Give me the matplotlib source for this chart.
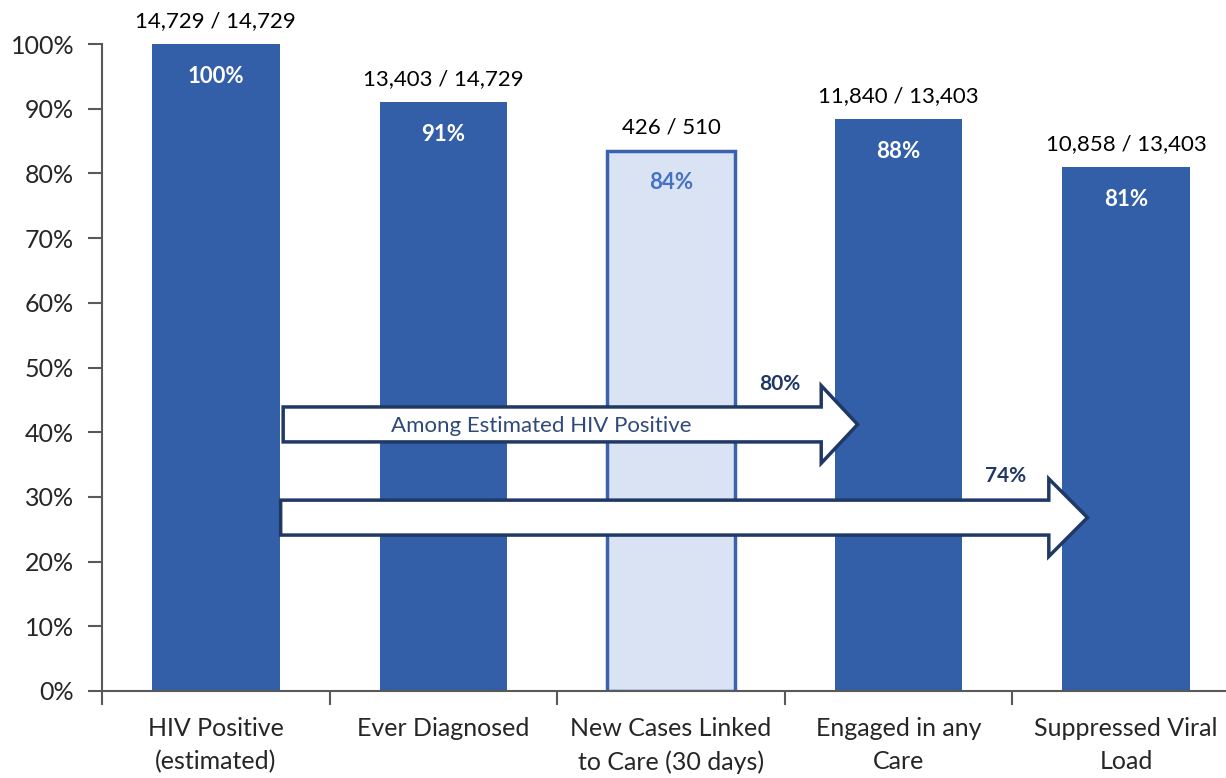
import numpy as np
import matplotlib.pyplot as plt
from matplotlib.patches import Polygon

plt.rcParams['font.family'] = ['Lato', 'DejaVu Sans']

# Datos de la cascada de atención
categorias = ['HIV Positive\n(estimated)', 'Ever Diagnosed', 'New Cases Linked\nto Care (30 days)',
              'Engaged in any\nCare', 'Suppressed Viral\nLoad']
numerador = [14729, 13403, 426, 11840, 10858]
denominador = [14729, 14729, 510, 13403, 13403]
porcentaje = [100, 91, 84, 88, 81]
flechas_pct = [80, 74]
flecha_texto = 'Among Estimated HIV Positive'

azul = '#335FA8'
azul_claro = '#DAE3F3'
marino = '#1F3864'
gris = '#595959'

fig = plt.figure(figsize=(12.26, 7.78), dpi=100)
W, H = 1226, 778
# el eje se sale un poco por la derecha, como en el original
ax = fig.add_axes([102 / W, (H - 691) / H, (1240 - 102) / W, (691 - 44) / H])

x = np.arange(len(categorias))
altura = [100 * n / d for n, d in zip(numerador, denominador)]
colores = [azul, azul, azul_claro, azul, azul]
bordes = [azul, azul, '#3A62AD', azul, azul]
lws = [0, 0, 2.5, 0, 0]
barras = ax.bar(x, altura, width=0.56, color=colores, edgecolor=bordes, linewidth=lws, zorder=2)

for i, b in enumerate(barras):
    ax.text(x[i], altura[i] + 2.0, f'{numerador[i]:,} / {denominador[i]:,}',
            ha='center', va='bottom', fontsize=16, color='black')
    c = '#4472C4' if i == 2 else 'white'
    ax.text(x[i], altura[i] - 5, f'{porcentaje[i]}%', ha='center', va='center',
            fontsize=16, fontweight='bold', color=c)

# flechas
def flecha(x0, x1, xt, yc, hb, hh):
    pts = [(x0, yc - hb), (x1, yc - hb), (x1, yc - hh), (xt, yc), (x1, yc + hh),
           (x1, yc + hb), (x0, yc + hb)]
    ax.add_patch(Polygon(pts, closed=True, facecolor='white', edgecolor=marino,
                         linewidth=2.5, joinstyle='miter', zorder=3))

flecha(0.296, 2.66, 2.82, 41.2, 2.7, 6.0)
flecha(0.285, 3.66, 3.83, 26.8, 2.7, 6.0)
ax.text(1.43, 40.9, flecha_texto, ha='center', va='center', fontsize=16, color='#2F4A7A', zorder=4)
ax.text(2.48, 47.4, f'{flechas_pct[0]}%', ha='center', va='center', fontsize=15,
        fontweight='bold', color=marino, zorder=4)
ax.text(3.47, 33.2, f'{flechas_pct[1]}%', ha='center', va='center', fontsize=15,
        fontweight='bold', color=marino, zorder=4)

ax.set_xlim(-0.5, 4.5)
ax.set_ylim(0, 100)
ax.set_yticks(np.arange(0, 101, 10))
ax.set_yticklabels([f'{v}%' for v in range(0, 101, 10)])
ax.set_xticks(x)
ax.set_xticklabels(categorias, linespacing=1.5)
ax.set_xticks(np.arange(-0.5, 5, 1), minor=True)
ax.tick_params(axis='x', which='major', length=0, pad=19, labelsize=18, labelcolor='#262626')
ax.tick_params(axis='x', which='minor', length=10, width=1.5, color=gris)
ax.tick_params(axis='y', length=10, width=1.5, color=gris, pad=10, labelsize=18, labelcolor='#262626')

for s in ['top', 'right']:
    ax.spines[s].set_visible(False)
for s in ['left', 'bottom']:
    ax.spines[s].set_color(gris)
    ax.spines[s].set_linewidth(1.5)

plt.savefig('out.png', dpi=100)
